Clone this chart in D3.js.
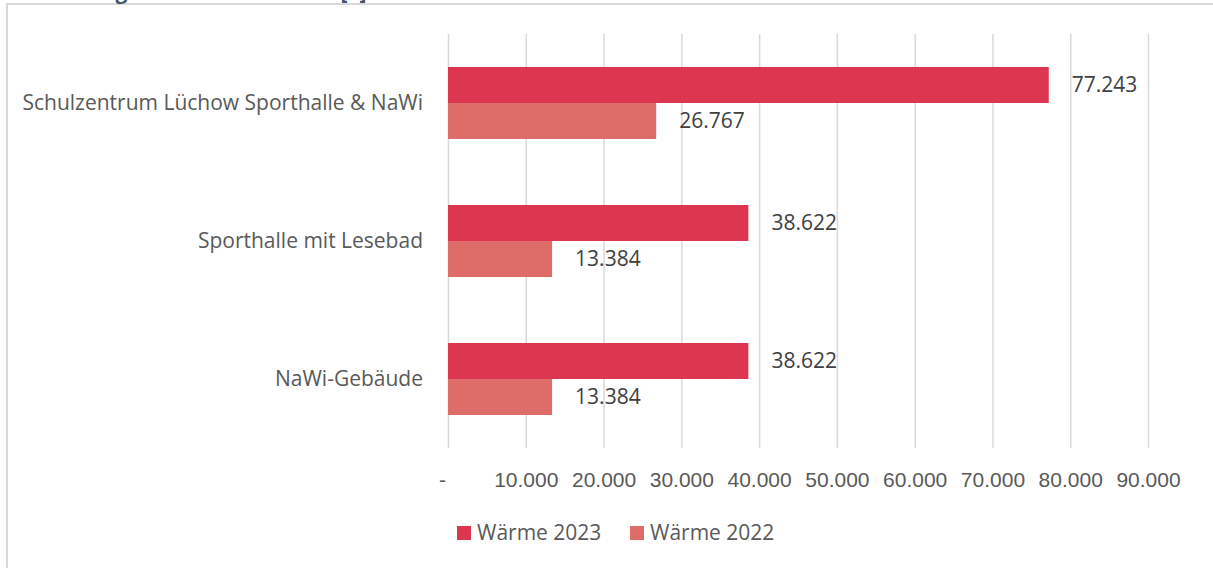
<!DOCTYPE html>
<html>
<head>
<meta charset="utf-8">
<script src="https://cdn.jsdelivr.net/npm/d3@7"></script>
<style>
  body { margin: 0; background: #fff; }
  svg { display: block; font-family: "Open Sans", sans-serif; }
  .grid line { stroke: #d9d9d9; stroke-width: 1.5; }
  .grid text { fill: #595959; font-size: 21px; }
</style>
</head>
<body>
<div id="chart"></div>
<script>
// data
const buildings = ["Schulzentrum Lüchow Sporthalle & NaWi", "Sporthalle mit Lesebad", "NaWi-Gebäude"];
const series = ["Wärme 2023", "Wärme 2022"];
const waerme2023 = [77243, 38622, 38622];
const waerme2022 = [26767, 13384, 13384];
const xTicks = [0, 10000, 20000, 30000, 40000, 50000, 60000, 70000, 80000, 90000];
const colors = ["#dc3651", "#de6c69"];

const W = 1213, H = 568;
const margin = { top: 34, left: 448, right: 65, bottom: 120 };
const width = W - margin.left - margin.right;
const height = H - margin.top - margin.bottom;
const fs = 21;

const svg = d3.select("#chart").append("svg")
    .attr("width", W)
    .attr("height", H);

// frame of the chart area
svg.append("path")
    .attr("d", "M7," + H + "V4H" + W)
    .attr("fill", "none")
    .attr("stroke", "#d9d9d9")
    .attr("stroke-width", 2);

// title, mostly cut off at the top (as in the original screenshot)
svg.append("text")
    .attr("x", 68)
    .attr("y", -1)
    .attr("fill", "#44546a")
    .attr("font-weight", "bold")
    .attr("font-size", 21)
    .text("Energieverbrauch Wärme [€]");

const g = svg.append("g")
    .attr("transform", "translate(" + margin.left + "," + margin.top + ")");

const x = d3.scaleLinear()
    .domain([0, 90000])
    .range([0, width]);

const y = d3.scaleBand()
    .domain(buildings)
    .range([0, height])
    .paddingInner(0.478)
    .paddingOuter(0.239);

const ySub = d3.scaleBand()
    .domain(series)
    .range([0, y.bandwidth()]);

const fmt = d3.formatLocale({ decimal: ",", thousands: ".", grouping: [3], currency: ["", ""] }).format(",d");

// gridlines + tick labels
const xAxis = d3.axisBottom(x)
    .tickValues(xTicks)
    .tickSizeInner(-height)
    .tickSizeOuter(0)
    .tickPadding(24)
    .tickFormat(d => d === 0 ? "-" : fmt(d));

const gx = g.append("g")
    .attr("class", "grid")
    .attr("transform", "translate(0," + height + ")")
    .call(xAxis);
gx.select(".domain").remove();
gx.selectAll("text").filter(d => d === 0).attr("dx", -6);

// category labels
g.selectAll(".cat")
    .data(buildings)
    .join("text")
    .attr("class", "cat")
    .attr("x", -25)
    .attr("y", d => y(d) + y.bandwidth() / 2)
    .attr("dy", "0.35em")
    .attr("text-anchor", "end")
    .attr("fill", "#595959")
    .attr("font-size", fs)
    .text(d => d);

const rows = [];
buildings.forEach((b, i) => {
    rows.push({ key: b, s: series[0], value: waerme2023[i], c: colors[0] });
    rows.push({ key: b, s: series[1], value: waerme2022[i], c: colors[1] });
});

g.selectAll(".bar")
    .data(rows)
    .join("rect")
    .attr("class", "bar")
    .attr("x", x(0))
    .attr("y", d => y(d.key) + ySub(d.s))
    .attr("width", d => x(d.value) - x(0))
    .attr("height", ySub.bandwidth())
    .attr("fill", d => d.c);

g.selectAll(".val")
    .data(rows)
    .join("text")
    .attr("class", "val")
    .attr("x", d => x(d.value) + 23)
    .attr("y", d => y(d.key) + ySub(d.s) + ySub.bandwidth() / 2)
    .attr("dy", "0.35em")
    .attr("fill", "#404040")
    .attr("font-size", fs)
    .text(d => fmt(d.value));

// legend
const legend = svg.append("g")
    .attr("transform", "translate(457,533)");
const item = legend.selectAll(".item")
    .data(series)
    .join("g")
    .attr("class", "item")
    .attr("transform", (d, i) => "translate(" + (i * 173) + ",0)");
item.append("rect")
    .attr("x", 0)
    .attr("y", -7)
    .attr("width", 14)
    .attr("height", 14)
    .attr("fill", (d, i) => colors[i]);
item.append("text")
    .attr("x", 20)
    .attr("dy", "0.35em")
    .attr("fill", "#595959")
    .attr("font-size", fs)
    .text(d => d);
</script>
</body>
</html>
